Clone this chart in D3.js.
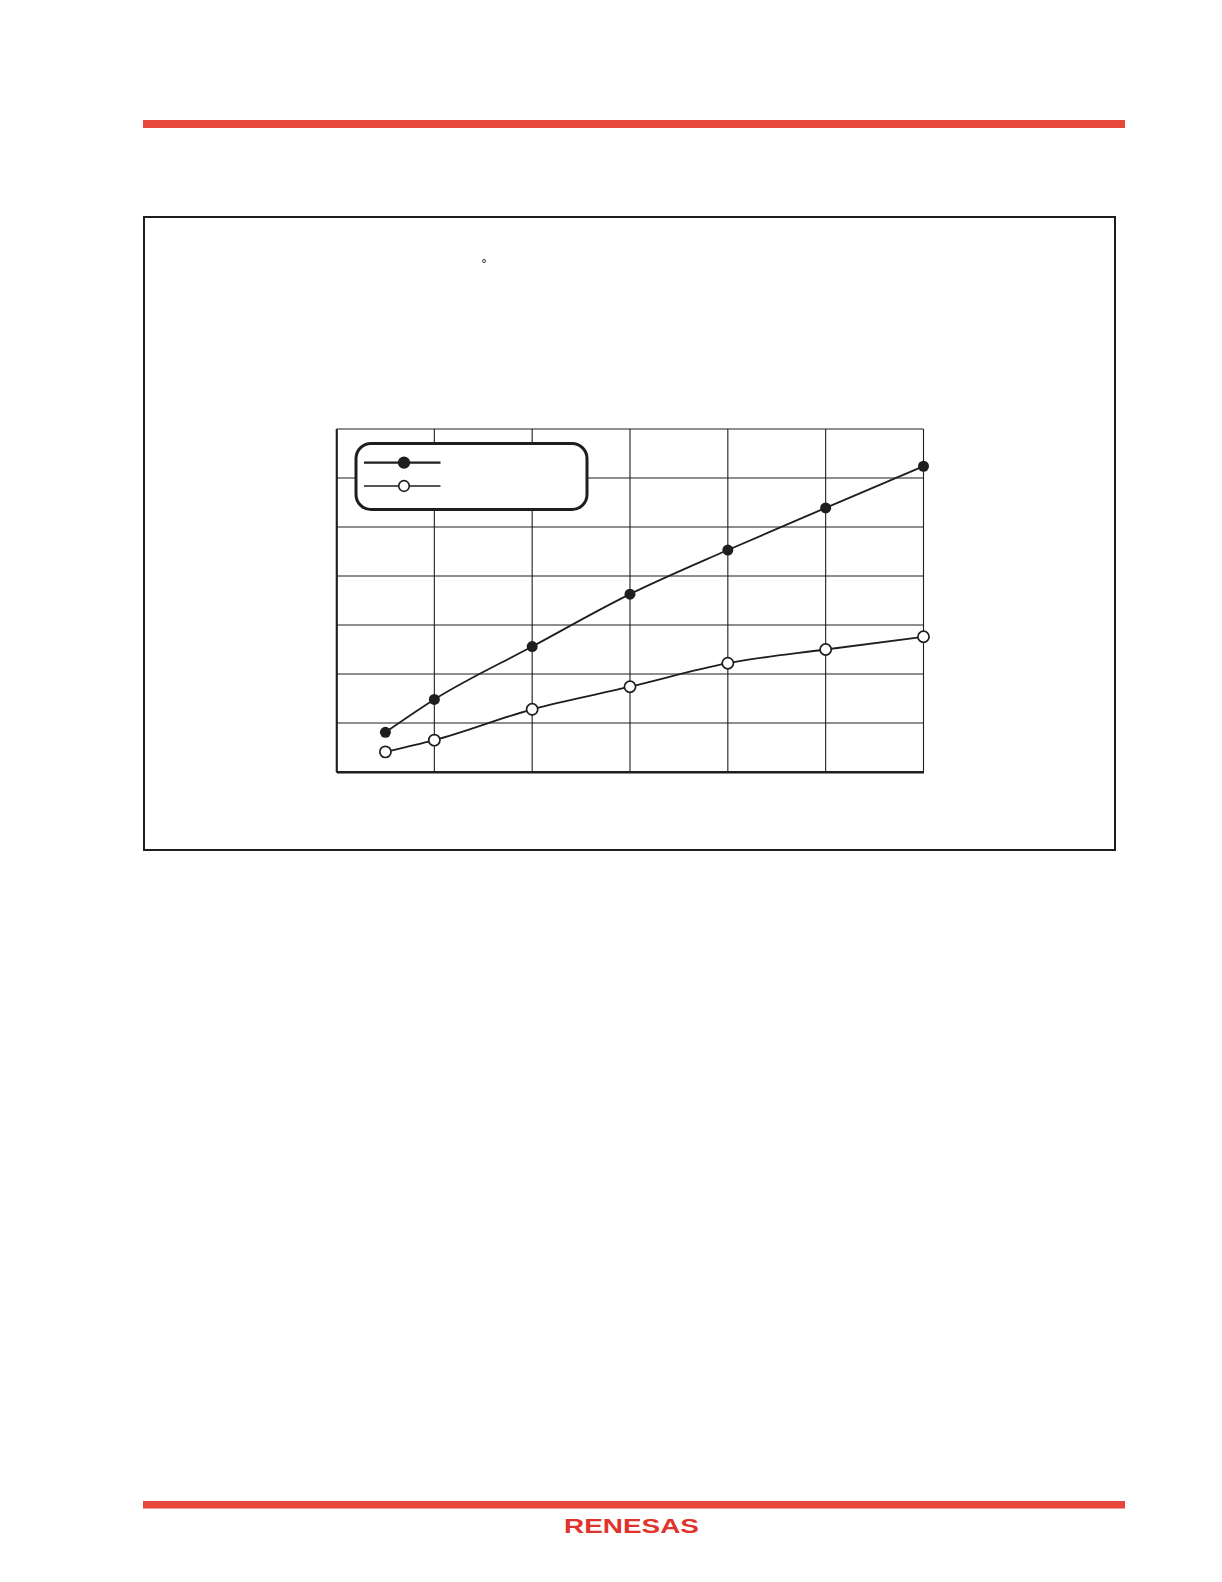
<!DOCTYPE html>
<html>
<head>
<meta charset="utf-8">
<script src="https://cdn.jsdelivr.net/npm/d3@7"></script>
<style>
  html, body { margin: 0; padding: 0; background: #fff; }
  svg { display: block; }
</style>
</head>
<body>
<script>
// ---- data ----
const xPositions = [0.5, 1, 2, 3, 4, 5, 6];
const seriesFilled = [0.81, 1.48, 2.56, 3.63, 4.53, 5.39, 6.24];
const seriesOpen = [0.41, 0.65, 1.28, 1.74, 2.22, 2.50, 2.76];
const xGridTicks = [0, 1, 2, 3, 4, 5, 6];
const yGridTicks = [0, 1, 2, 3, 4, 5, 6, 7];
const legendLabels = ["", ""];
const logoText = "RENESAS";

const W = 1222, H = 1582;
const red = "#e8473b";
const ink = "#1e1e1e";

const svg = d3.select("body").append("svg")
  .attr("width", W).attr("height", H)
  .attr("viewBox", `0 0 ${W} ${H}`);

// header / footer bars
svg.append("rect").attr("x", 143).attr("y", 120).attr("width", 982).attr("height", 8).attr("fill", red);
svg.append("rect").attr("x", 143).attr("y", 1501).attr("width", 982).attr("height", 7.5).attr("fill", red);

// logo
svg.append("text")
  .attr("x", 564).attr("y", 1533)
  .attr("font-family", "Liberation Sans, Arial, sans-serif")
  .attr("font-size", 20)
  .attr("font-weight", "bold")
  .attr("fill", "#e0332b")
  .attr("textLength", 135)
  .attr("lengthAdjust", "spacingAndGlyphs")
  .text(logoText);

// figure frame
svg.append("rect").attr("x", 144).attr("y", 217).attr("width", 971).attr("height", 633)
  .attr("fill", "none").attr("stroke", ink).attr("stroke-width", 2);

// stray degree symbol
svg.append("text").attr("x", 481).attr("y", 268)
  .attr("font-family", "DejaVu Sans, sans-serif").attr("font-size", 12)
  .attr("fill", ink).text("°");

// scales
const x = d3.scaleLinear().domain([0, 6]).range([336.5, 923.5]);
const y = d3.scaleLinear().domain([0, 7]).range([772, 429]);

const g = svg.append("g");

// grid
g.selectAll("line.v").data(xGridTicks).join("line")
  .attr("x1", d => x(d)).attr("x2", d => x(d))
  .attr("y1", y(7)).attr("y2", y(0))
  .attr("stroke", ink).attr("stroke-width", d => (d === 0 ? 1.6 : 1.1));
g.selectAll("line.h").data(yGridTicks).join("line")
  .attr("x1", x(0)).attr("x2", x(6))
  .attr("y1", d => y(d)).attr("y2", d => y(d))
  .attr("stroke", ink).attr("stroke-width", d => (d === 0 ? 2.2 : 1.1));

// axes (no labels, ticks hidden) via d3 axis for structure
const xAxis = d3.axisBottom(x).tickValues(xGridTicks).tickSize(0).tickFormat(() => "");
const yAxis = d3.axisLeft(y).tickValues(yGridTicks).tickSize(0).tickFormat(() => "");
g.append("g").attr("transform", `translate(0,${y(0)})`).call(xAxis)
  .call(s => s.select(".domain").attr("stroke", ink).attr("stroke-width", 2.2));
g.append("g").attr("transform", `translate(${x(0)},0)`).call(yAxis)
  .call(s => s.select(".domain").attr("stroke", ink).attr("stroke-width", 1.6));

const line = d3.line().x(d => x(d[0])).y(d => y(d[1])).curve(d3.curveMonotoneX);

const filledPts = xPositions.map((v, i) => [v, seriesFilled[i]]);
const openPts = xPositions.map((v, i) => [v, seriesOpen[i]]);

g.append("path").datum(filledPts).attr("d", line)
  .attr("fill", "none").attr("stroke", ink).attr("stroke-width", 1.8);
g.append("path").datum(openPts).attr("d", line)
  .attr("fill", "none").attr("stroke", ink).attr("stroke-width", 1.8);

g.selectAll("circle.f").data(filledPts).join("circle")
  .attr("cx", d => x(d[0])).attr("cy", d => y(d[1])).attr("r", 5.5)
  .attr("fill", ink);
g.selectAll("circle.o").data(openPts).join("circle")
  .attr("cx", d => x(d[0])).attr("cy", d => y(d[1])).attr("r", 5.6)
  .attr("fill", "#fff").attr("stroke", ink).attr("stroke-width", 1.7);

// legend
const lg = svg.append("g");
lg.append("rect").attr("x", 356).attr("y", 443.5).attr("width", 231).attr("height", 66)
  .attr("rx", 15).attr("ry", 15)
  .attr("fill", "#fff").attr("stroke", ink).attr("stroke-width", 3);
const legendItems = [
  { y: 462.7, filled: true, w: 2.2, label: legendLabels[0] },
  { y: 486, filled: false, w: 1.4, label: legendLabels[1] }
];
legendItems.forEach(it => {
  lg.append("line").attr("x1", 364).attr("x2", 440.5).attr("y1", it.y).attr("y2", it.y)
    .attr("stroke", ink).attr("stroke-width", it.w);
  lg.append("circle").attr("cx", 404).attr("cy", it.y).attr("r", 5.3)
    .attr("fill", it.filled ? ink : "#fff").attr("stroke", ink).attr("stroke-width", 1.7);
  lg.append("text").attr("x", 450).attr("y", it.y + 4)
    .attr("font-family", "Liberation Sans, sans-serif").attr("font-size", 13)
    .attr("fill", ink).text(it.label);
});
</script>
</body>
</html>
